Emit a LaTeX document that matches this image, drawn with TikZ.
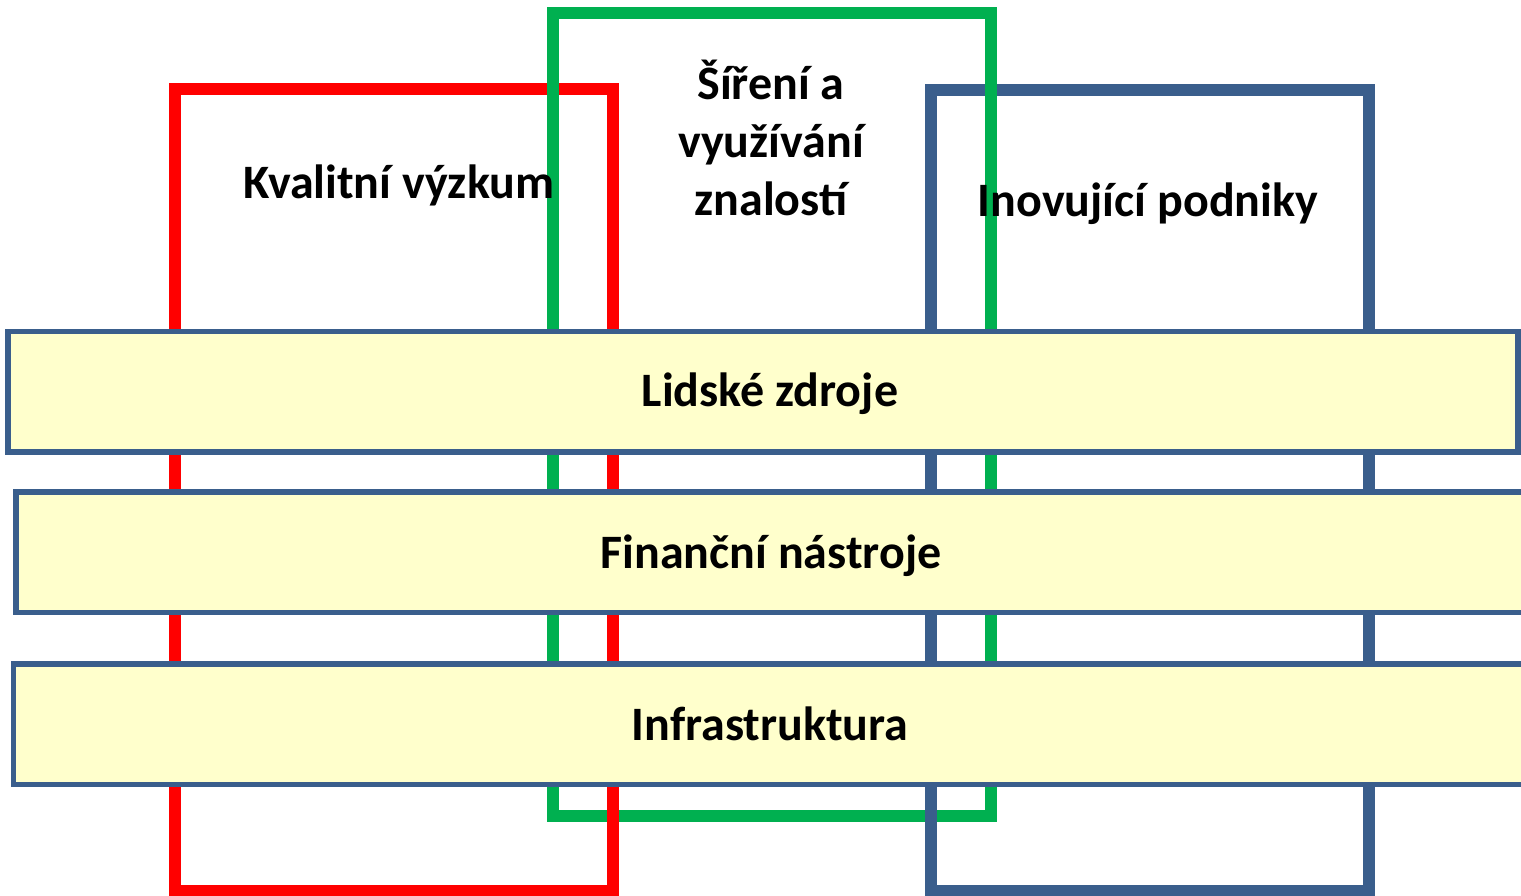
\documentclass[tikz,border=0pt]{standalone}
\usepackage{fontspec}
\setmainfont{Carlito}
\definecolor{ramred}{HTML}{FF0000}
\definecolor{ramgreen}{HTML}{00B050}
\definecolor{ramblue}{HTML}{3A5E8C}
\definecolor{pasfill}{HTML}{FFFFCC}
\tikzset{
  redline/.style={draw=ramred,line width=6pt,line cap=rect},
  greenline/.style={draw=ramgreen,line width=6pt,line cap=rect},
  blueline/.style={draw=ramblue,line width=6pt,line cap=rect},
  pas/.style={draw=ramblue,fill=pasfill,line width=2.6pt},
  nadpis/.style={font=\fontsize{24}{28.8}\selectfont\bfseries,align=center,anchor=base,inner sep=0pt}
}
\begin{document}
\begin{tikzpicture}[x=0.5pt,y=-0.5pt]
\useasboundingbox (0,0) rectangle (1521,895);
% horizontal edges of the three pillars
\draw[redline] (175,89) -- (613,89);
\draw[redline] (175,891) -- (613,891);
\draw[greenline] (552.7,13.3) -- (991.3,13.3);
\draw[greenline] (552.7,815.5) -- (991.3,815.5);
\draw[blueline] (931,89.5) -- (1369,89.5);
\draw[blueline] (931,891) -- (1369,891);
% vertical edges
\draw[redline] (175,89) -- (175,891);
\draw[redline] (613,89) -- (613,891);
\draw[greenline] (552.7,13.3) -- (552.7,815.5);
\draw[greenline] (991.3,13.3) -- (991.3,815.5);
\draw[blueline] (931,89.5) -- (931,891);
\draw[blueline] (1369,89.5) -- (1369,891);
% pillar titles
\node[nadpis] (vyzkum) at (399,198) {Kvalitní výzkum};
\node[nadpis] (znalosti) at (771,215) {Šíření a\\využívání\\znalostí};
\node[nadpis] (podniky) at (1148,216.7) {Inovující podniky};
% horizontal bars
\draw[pas] (8,331.7) rectangle (1518,452);
\draw[pas] (16,492) rectangle (1540,612.7);
\draw[pas] (13.7,664) rectangle (1540,784.7);
\node[nadpis] (zdroje) at (770,406.7) {Lidské zdroje};
\node[nadpis] (nastroje) at (771,568) {Finanční nástroje};
\node[nadpis] (infra) at (770,740) {Infrastruktura};
\end{tikzpicture}
\end{document}
